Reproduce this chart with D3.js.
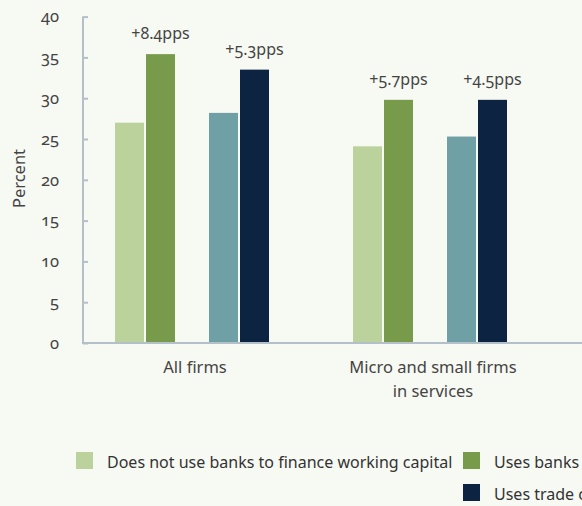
<!DOCTYPE html>
<html>
<head>
<meta charset="utf-8">
<script src="https://cdn.jsdelivr.net/npm/d3@7"></script>
<style>
  html, body { margin: 0; padding: 0; background: #f7f9f3; }
  svg { display: block; font-family: "Noto Sans", sans-serif; font-variant-numeric: oldstyle-nums; font-feature-settings: "onum"; }
</style>
</head>
<body>
<svg id="chart" width="582" height="506"></svg>
<script>
// Firm groups shown on the x axis
const groups = ["All firms", "Micro and small firms\nin services"];

// Share of firms (percent) in each group
const noBanks = [27.0, 24.1];   // does not use banks to finance working capital
const banks   = [35.4, 29.8];   // uses banks to finance working capital
const noTrade = [28.2, 25.3];   // does not use trade credit
const trade   = [33.5, 29.8];   // uses trade credit

// Difference labels over the "uses" bars
const bankGap  = ["+8.4pps", "+5.7pps"];
const tradeGap = ["+5.3pps", "+4.5pps"];

const yTicks = [0, 5, 10, 15, 20, 25, 30, 35, 40];

const seriesNames = [
  "Does not use banks to finance working capital",
  "Uses banks to finance working capital",
  "Does not use trade credit",
  "Uses trade credit"
];
const colors = ["#bbd29c", "#789a4b", "#6fa0a6", "#0c2342"];

const svg = d3.select("#chart");
const W = 582, H = 506;
const axisColor = "#b3c0ca";
const textColor = "#444";

const y = d3.scaleLinear().domain([0, 40]).range([343, 16.6]);
const x0 = d3.scaleBand().domain(groups).range([73, 549]);
const pair = d3.scaleBand().domain(["banks", "trade"]).range([42, 196]).paddingInner(0.3617);
const inner = d3.scaleBand().domain(["no", "yes"]).range([0, pair.bandwidth()]).paddingInner(0.0645);

const series = [
  { name: seriesNames[0], values: noBanks, p: "banks", s: "no", color: colors[0] },
  { name: seriesNames[1], values: banks,   p: "banks", s: "yes", color: colors[1] },
  { name: seriesNames[2], values: noTrade, p: "trade", s: "no", color: colors[2] },
  { name: seriesNames[3], values: trade,   p: "trade", s: "yes", color: colors[3] }
];

const barX = (g, d) => x0(groups[g]) + pair(d.p) + inner(d.s);

// bars
series.forEach(d => {
  svg.append("g").selectAll("rect")
    .data(d.values)
    .join("rect")
    .attr("x", (v, i) => barX(i, d))
    .attr("y", v => y(v))
    .attr("width", inner.bandwidth())
    .attr("height", v => y(0) - y(v))
    .attr("fill", d.color);
});

// difference labels
[[series[1], bankGap], [series[3], tradeGap]].forEach(([d, labels]) => {
  svg.append("g").selectAll("text")
    .data(labels)
    .join("text")
    .attr("x", (t, i) => barX(i, d) + inner.bandwidth() / 2)
    .attr("y", (t, i) => y(d.values[i]) - 15)
    .attr("text-anchor", "middle")
    .attr("font-size", 16)
    .attr("fill", textColor)
    .text(t => t);
});

// y axis
const yAxis = svg.append("g")
  .attr("transform", "translate(83,0)")
  .call(d3.axisRight(y).tickValues(yTicks).tickSize(5).tickFormat(d3.format("d")))
  .attr("font-family", null)
  .attr("font-size", null);
yAxis.select(".domain").remove();
yAxis.selectAll(".tick line").attr("stroke", axisColor).attr("stroke-width", 2);
yAxis.selectAll(".tick text")
  .attr("x", -24)
  .attr("text-anchor", "end")
  .attr("font-size", 16.5)
  .attr("fill", textColor);

svg.append("line")
  .attr("x1", 83).attr("x2", 83)
  .attr("y1", y(40)).attr("y2", y(0) + 1)
  .attr("stroke", axisColor).attr("stroke-width", 2);

// x axis baseline
svg.append("line")
  .attr("x1", 82).attr("x2", W)
  .attr("y1", y(0)).attr("y2", y(0))
  .attr("stroke", axisColor).attr("stroke-width", 2);

// category labels
const cat = svg.append("g").selectAll("text")
  .data(groups)
  .join("text")
  .attr("x", g => x0(g) + x0.bandwidth() / 2 + 3)
  .attr("y", 373)
  .attr("text-anchor", "middle")
  .attr("font-size", 16.5)
  .attr("fill", textColor);
cat.selectAll("tspan")
  .data(g => g.split("\n").map(t => ({ t, x: x0(g) + x0.bandwidth() / 2 + 3 })))
  .join("tspan")
  .attr("x", d => d.x)
  .attr("dy", (d, i) => i === 0 ? 0 : 24)
  .text(d => d.t);

// y axis title
svg.append("text")
  .attr("transform", `translate(25,178.5) rotate(-90)`)
  .attr("text-anchor", "middle")
  .attr("font-size", 16.5)
  .attr("fill", textColor)
  .text("Percent");

// legend
const legendItems = [
  { s: series[0], x: 76, y: 452 },
  { s: series[1], x: 463, y: 452 },
  { s: series[3], x: 463, y: 484 }
];
const lg = svg.append("g").selectAll("g")
  .data(legendItems)
  .join("g")
  .attr("transform", d => `translate(${d.x},${d.y})`);
lg.append("rect")
  .attr("width", 17).attr("height", 17)
  .attr("fill", d => d.s.color);
lg.append("text")
  .attr("x", 31).attr("y", 16)
  .attr("font-size", 16)
  .attr("fill", "#333")
  .text(d => d.s.name);
</script>
</body>
</html>
